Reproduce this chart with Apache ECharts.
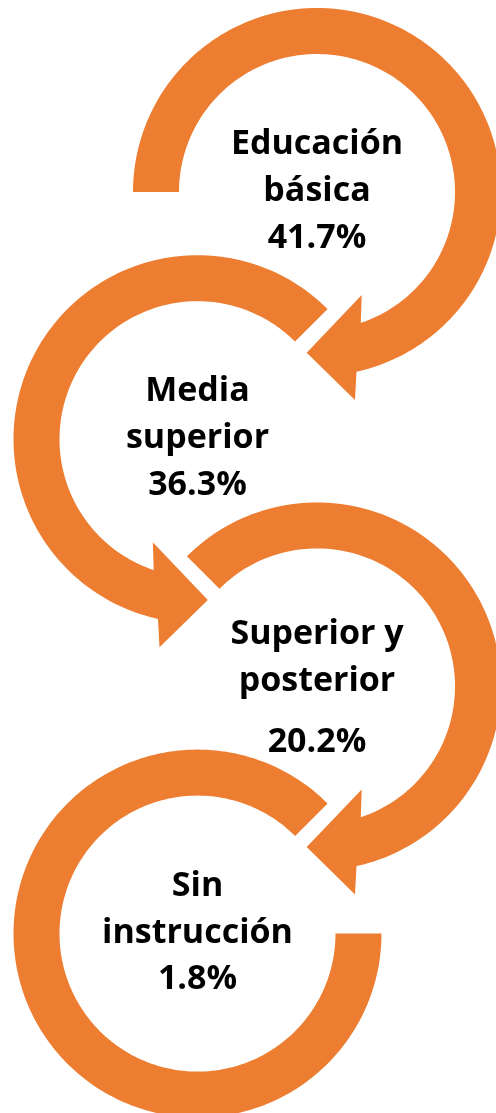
<!DOCTYPE html>
<html>
<head>
<meta charset="utf-8">
<script src="https://cdn.jsdelivr.net/npm/echarts@6/dist/echarts.min.js"></script>
<style>
  html, body { margin: 0; padding: 0; background: #fff; }
  #chart { width: 496px; height: 1113px; }
</style>
</head>
<body>
<div id="chart"></div>
<script>
  'use strict'

  // niveles de escolaridad (texto y porcentaje)
  var niveles = ['Educación\nbásica', 'Media\nsuperior', 'Superior y\nposterior', 'Sin\ninstrucción'];
  var porcentajes = [41.7, 36.3, 20.2, 1.8];

  var ORANGE = '#ED7D31';
  var R_OUT = 184, R_IN = 138;
  // punta de flecha (sentido horario), relativo al centro del circulo
  var HEAD_OUT = 77.6, HEAD_IN = 71.5;
  var HEAD_PTS = [[38, 208], [-10.3, 160.7], [44.7, 103]];

  function polar(r, deg) {
    var a = deg * Math.PI / 180;
    return [r * Math.cos(a), r * Math.sin(a)];
  }

  function ringPoints(tail, last) {
    var pts = [], a;
    var outEnd = last ? 540 : HEAD_OUT + 360;
    var inEnd = last ? 540 : HEAD_IN + 360;
    for (a = tail; a < outEnd; a += 1.5) pts.push(polar(R_OUT, a));
    pts.push(polar(R_OUT, outEnd));
    if (!last) HEAD_PTS.forEach(function (p) { pts.push(p); });
    for (a = inEnd; a > tail; a -= 1.5) pts.push(polar(R_IN, a));
    pts.push(polar(R_IN, tail));
    return pts;
  }

  var chart = echarts.init(document.getElementById('chart'));

  chart.setOption({
    animation: false,
    grid: { left: 0, right: 0, top: 0, bottom: 0 },
    xAxis: { type: 'value', min: 0, max: 496, show: false },
    yAxis: { type: 'value', min: 0, max: 1113, inverse: true, show: false },
    series: [{
      type: 'custom',
      data: porcentajes.map(function (v, i) { return [i, v]; }),
      renderItem: function (params, api) {
        var i = api.value(0);
        var mirror = i % 2 === 1;
        var c = api.coord([mirror ? 197.5 : 317, 192 + i * 247.2]);
        var unit = api.size([1, 1])[0];
        var tail = i === 0 ? 180 : 225;
        var last = i === niveles.length - 1;
        var pts = ringPoints(tail, last).map(function (p) {
          return [c[0] + (mirror ? -p[0] : p[0]) * unit, c[1] + p[1] * unit];
        });
        var nameShift = i === 2 ? -5 : 0;
        var valShift = i === 2 ? 10 : 0;
        var font = 'bold 34px "Open Sans"';
        return {
          type: 'group',
          children: [
            { type: 'polygon', shape: { points: pts }, style: { fill: ORANGE } },
            {
              type: 'text',
              style: {
                text: niveles[params.dataIndex], x: c[0], y: c[1] - 24 + nameShift,
                align: 'center', verticalAlign: 'middle', font: font, lineHeight: 47, fill: '#000'
              }
            },
            {
              type: 'text',
              style: {
                text: api.value(1).toFixed(1) + '%', x: c[0], y: c[1] + 46 + valShift,
                align: 'center', verticalAlign: 'middle', font: font, fill: '#000'
              }
            }
          ]
        };
      }
    }]
  });
</script>
</body>
</html>
